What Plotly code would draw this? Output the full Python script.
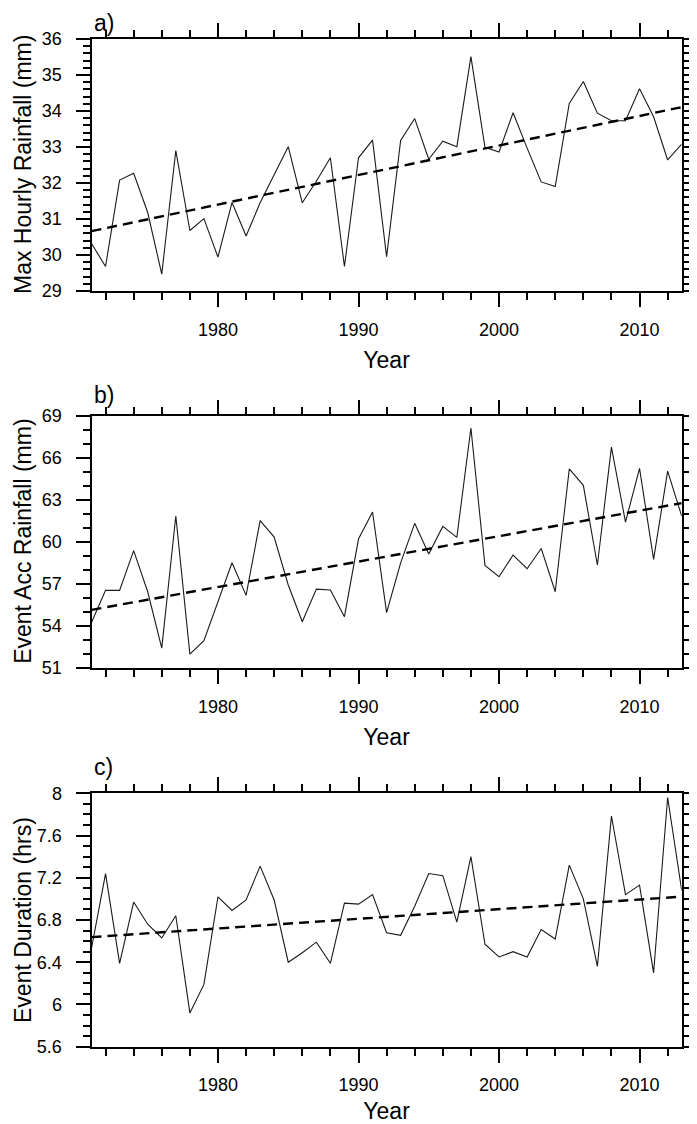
import numpy as np
import plotly.graph_objects as go

years = list(range(1971, 2014))

max_hourly = [30.32, 29.68, 32.08, 32.27, 31.18, 29.47, 32.90, 30.68, 31.01, 29.94,
              31.46, 30.53, 31.45, 32.25, 33.01, 31.45, 32.05, 32.70, 29.68, 32.70,
              33.19, 29.95, 33.18, 33.79, 32.66, 33.16, 33.01, 35.51, 32.99, 32.86,
              33.95, 32.97, 32.03, 31.90, 34.21, 34.82, 33.94, 33.73, 33.73, 34.62,
              33.84, 32.64, 33.08]

event_acc = [54.25, 56.54, 56.54, 59.37, 56.44, 52.42, 61.84, 51.99, 52.95, 55.8,
             58.51, 56.18, 61.51, 60.34, 56.92, 54.30, 56.63, 56.56, 54.66, 60.20,
             62.13, 54.95, 58.5, 61.32, 59.13, 61.10, 60.32, 68.12, 58.32, 57.51,
             59.06, 58.08, 59.53, 56.44, 65.20, 64.03, 58.35, 66.76, 61.41, 65.24,
             58.75, 65.05, 61.84]

event_dur = [6.53, 7.24, 6.39, 6.97, 6.76, 6.63, 6.84, 5.92, 6.19, 7.02,
             6.89, 6.99, 7.31, 6.99, 6.40, 6.49, 6.59, 6.39, 6.96, 6.95,
             7.04, 6.68, 6.655, 6.93, 7.24, 7.22, 6.78, 7.40, 6.57, 6.45,
             6.50, 6.45, 6.71, 6.62, 7.32, 7.00, 6.36, 7.785, 7.04, 7.13,
             6.30, 7.96, 7.08]

panel_labels = ["a)", "b)", "c)"]
y_titles = ["Max Hourly Rainfall (mm)", "Event Acc Rainfall (mm)", "Event Duration (hrs)"]
y_ranges = [(29, 36), (51, 69), (5.6, 8)]
y_dticks = [1, 3, 0.4]
y_minor = [0.2, 1, 0.1]
series = [max_hourly, event_acc, event_dur]

# The page body has an 8px default margin; the figure is sized/positioned to compensate.
W, H = 689, 1116
x_dom = [83.5 / W, 673.7 / W]
panel_px = [(31, 283), (407.7, 660), (785.3, 1038.7)]
label_top_px = [0, 372, 744]

FONT = "Liberation Sans, Arial, Helvetica, sans-serif"

fig = go.Figure()
yr = np.array(years, dtype=float)
for i, vals in enumerate(series):
    xa = "x" if i == 0 else f"x{i+1}"
    ya = "y" if i == 0 else f"y{i+1}"
    fig.add_trace(go.Scatter(x=years, y=vals, mode="lines", xaxis=xa, yaxis=ya,
                             line=dict(color="#1a1a1a", width=1.1), showlegend=False))
    slope, icpt = np.polyfit(yr, np.array(vals), 1)
    fit = slope * yr + icpt
    fig.add_trace(go.Scatter(x=years, y=fit, mode="lines", xaxis=xa, yaxis=ya,
                             line=dict(color="black", width=2.4, dash="10px,6px"),
                             showlegend=False))

layout = dict(width=W, height=H, margin=dict(l=0, r=0, t=0, b=0),
              paper_bgcolor="white", plot_bgcolor="white",
              font=dict(family=FONT, color="black"))

for i in range(3):
    top, bot = panel_px[i]
    ydom = [1 - bot / H, 1 - top / H]
    xk = "xaxis" if i == 0 else f"xaxis{i+1}"
    yk = "yaxis" if i == 0 else f"yaxis{i+1}"
    ya = "y" if i == 0 else f"y{i+1}"
    xa = "x" if i == 0 else f"x{i+1}"
    layout[xk] = dict(domain=x_dom, anchor=ya, range=[1971, 2013],
                      tickmode="array", tickvals=[1980, 1990, 2000, 2010],
                      ticks="outside", ticklen=14, tickwidth=2, tickcolor="black",
                      showline=True, linewidth=2, linecolor="black", mirror="ticks",
                      showgrid=False, zeroline=False,
                      tickfont=dict(size=18, family=FONT),
                      ticklabelstandoff=7,
                      minor=dict(tickmode="linear", tick0=1970, dtick=2, ticks="outside",
                                 ticklen=7, tickwidth=1.5, tickcolor="black", showgrid=False),
                      title=dict(text="Year", font=dict(size=23, family=FONT), standoff=13),
                      automargin=False)
    layout[yk] = dict(domain=ydom, anchor=xa, range=list(y_ranges[i]),
                      tick0=y_ranges[i][0], dtick=y_dticks[i],
                      ticks="outside", ticklen=14, tickwidth=2, tickcolor="black",
                      showline=True, linewidth=2, linecolor="black", mirror="ticks",
                      showgrid=False, zeroline=False,
                      tickfont=dict(size=18, family=FONT),
                      ticklabelstandoff=10,
                      minor=dict(dtick=y_minor[i], ticks="outside",
                                 ticklen=7, tickwidth=1.5, tickcolor="black", showgrid=False),
                      automargin=False)

fig.update_layout(**layout)

for i, lab in enumerate(panel_labels):
    fig.add_annotation(text=lab, xref="paper", yref="paper",
                       x=x_dom[0], y=1 - label_top_px[i] / H, xanchor="left", yanchor="top",
                       showarrow=False, font=dict(size=23, family=FONT, color="black"))
    top, bot = panel_px[i]
    fig.add_annotation(text=y_titles[i], xref="paper", yref="paper",
                       x=0, y=1 - (top + bot) / 2 / H, xanchor="left", yanchor="middle",
                       textangle=-90, showarrow=False,
                       font=dict(size=23, family=FONT, color="black"))

fig.write_html("out.html")
